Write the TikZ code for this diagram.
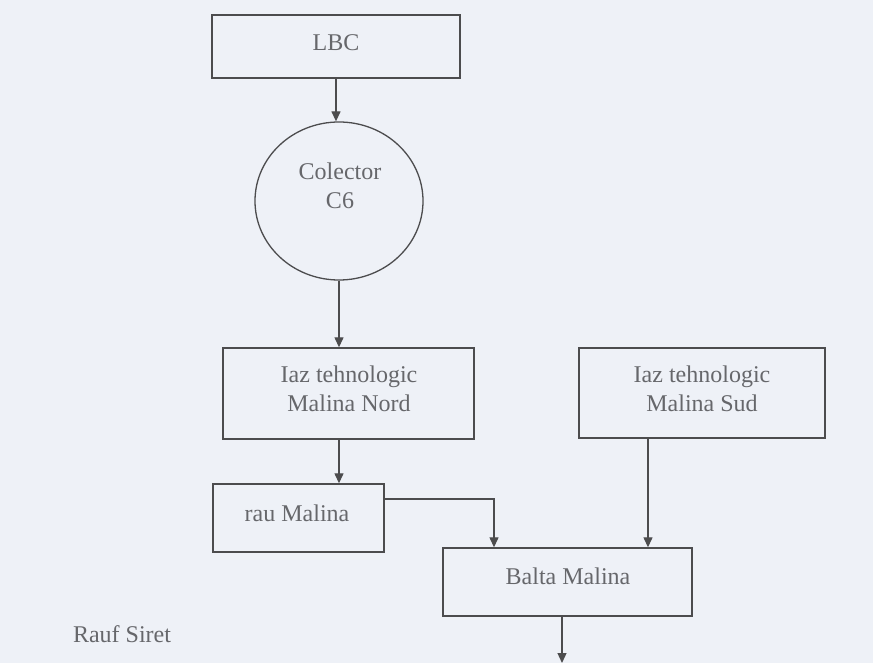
\documentclass[tikz,border=0pt]{standalone}
\usepackage{fontspec}
\setmainfont{Liberation Serif}
\usetikzlibrary{arrows.meta,shapes.geometric}
\definecolor{bgc}{HTML}{EEF1F7}
\definecolor{linec}{HTML}{4C4C4E}
\definecolor{txtc}{HTML}{66676B}
\tikzset{
  box/.style={draw=linec, line width=1.4pt, rectangle, inner sep=0pt},
  oval/.style={draw=linec, line width=1.3pt, ellipse, inner sep=0pt},
  txt/.style={text=txtc, font=\fontsize{24}{29}\selectfont, align=center, inner sep=0pt},
  arr/.style={draw=linec, line width=1.3pt, -{Triangle[length=10pt,width=9pt]}}
}
\begin{document}
\begin{tikzpicture}[x=1pt,y=-1pt]
\fill[bgc] (0,0) rectangle (873,663);
\useasboundingbox (0,0) rectangle (873,663);
% boxes
\node[box, minimum width=248pt, minimum height=63pt] (lbc) at (336,46.5) {};
\node[oval, minimum width=168pt, minimum height=158pt] (col) at (339,201) {};
\node[box, minimum width=251pt, minimum height=91pt] (nord) at (348.5,393.5) {};
\node[box, minimum width=246pt, minimum height=90pt] (sud) at (702,393) {};
\node[box, minimum width=171pt, minimum height=68pt] (rau) at (298.5,518) {};
\node[box, minimum width=249pt, minimum height=68pt] (bal) at (567.5,582) {};
\coordinate (out) at (562,663);
% texts
\node[txt] (lbct) at (336,43) {LBC};
\node[txt] (colt) at (340,186) {Colector\\C6};
\node[txt] (nordt) at (349,389) {Iaz tehnologic\\Malina Nord};
\node[txt] (sudt) at (702,389) {Iaz tehnologic\\Malina Sud};
\node[txt] (raut) at (297,513) {rau Malina};
\node[txt] (balt) at (568,576) {Balta Malina};
\node[txt] (rauf) at (122,634) {Rauf Siret};
% connectors
\draw[arr] (lbc.south) -- (lbc.south |- col.north);
\draw[arr] (col.south) -- (col.south |- nord.north);
\draw[arr] (col.south |- nord.south) -- (col.south |- rau.north);
\draw[arr] ([yshift=19pt]rau.east) -| ([xshift=-73.5pt]bal.north);
\draw[arr] ([xshift=-54pt]sud.south) -- ([xshift=-54pt]sud.south |- bal.north);
\draw[arr] (bal.south -| out) -- (out);
\end{tikzpicture}
\end{document}
